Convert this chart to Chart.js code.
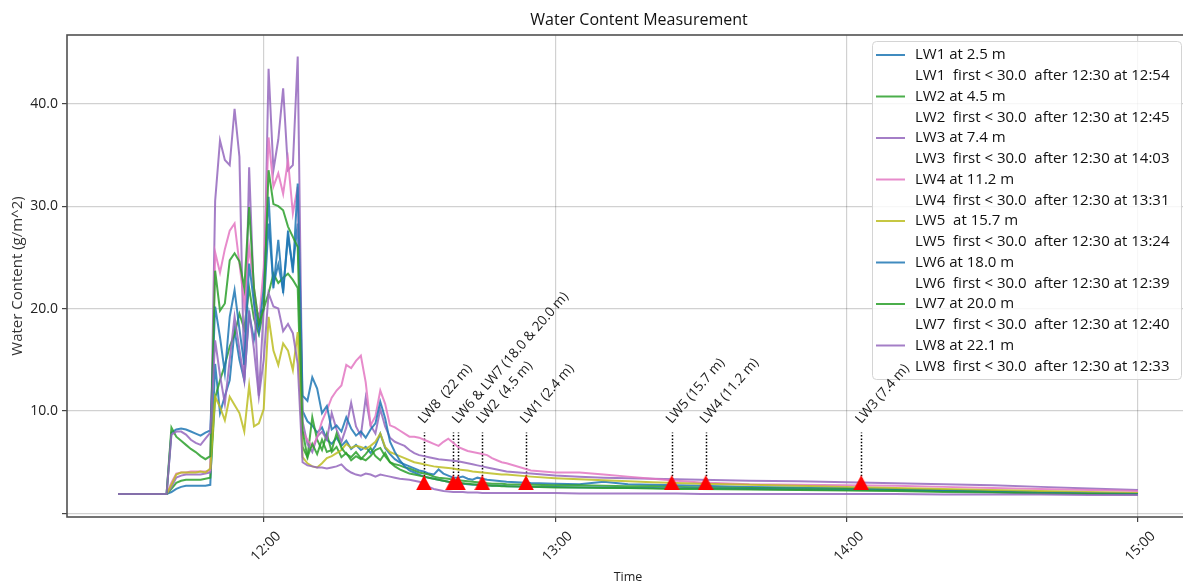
<!DOCTYPE html>
<html>
<head>
<meta charset="utf-8">
<title>Water Content Measurement</title>
<script src="https://cdn.jsdelivr.net/npm/chart.js@4.4.1/dist/chart.umd.min.js"></script>
<style>
  html, body { margin: 0; padding: 0; background: #fff; overflow: hidden; }
  #wrap { position: relative; width: 1200px; height: 583px; }
</style>
</head>
<body>
<div id="wrap"><canvas id="chart" width="1200" height="583"></canvas></div>
<script>
// ---- sample times (HH:MM) ----
const times = [
  '11:30','11:31','11:32','11:33','11:34','11:35','11:36','11:37','11:38','11:39',
  '11:40','11:41','11:42','11:43','11:44','11:45','11:46','11:47','11:48','11:49',
  '11:50','11:51','11:52','11:53','11:54','11:55','11:56','11:57','11:58','11:59',
  '12:00','12:01','12:02','12:03','12:04','12:05','12:06','12:07','12:08','12:09',
  '12:10','12:11','12:12','12:13','12:14','12:15','12:16','12:17','12:18','12:19',
  '12:20','12:21','12:22','12:23','12:24','12:25','12:26','12:27','12:28','12:29',
  '12:30','12:31','12:32','12:33','12:34','12:35','12:36','12:37','12:38','12:39',
  '12:40','12:41','12:42','12:43','12:44','12:45','12:46','12:47','12:48','12:49',
  '12:50','12:55','13:00','13:05','13:10','13:15','13:20','13:25','13:30','13:40',
  '13:50','14:00','14:10','14:20','14:30','14:40','14:50','15:00'
];

// ---- water content per sensor (g/m^2) ----
const lw1 = [
  1.9,1.9,1.9,1.9,1.9,1.9,1.9,1.9,1.9,1.9,
  1.9,2.1,2.4,2.6,2.7,2.7,2.7,2.7,2.7,2.8,
  14.6,9.8,11.5,13.0,17.9,15.0,13.0,19.5,17.0,19.5,
  20.0,28.3,22.4,24.3,21.8,27.0,24.0,28.3,10.0,9.0,
  8.6,7.9,8.4,7.2,6.8,7.4,6.6,7.1,6.3,6.7,
  6.2,6.5,5.9,6.6,7.8,6.4,5.8,5.3,5.0,4.8,
  4.6,4.4,4.2,4.1,3.9,3.8,4.3,3.9,3.7,3.5,
  3.5,3.6,3.4,3.3,3.5,3.4,3.3,3.25,3.2,3.15,
  3.1,2.97,2.9,2.85,3.1,2.85,2.8,2.75,2.7,2.6,
  2.55,2.5,2.4,2.3,2.2,2.1,2.0,1.95
];
const lw2 = [
  1.9,1.9,1.9,1.9,1.9,1.9,1.9,1.9,1.9,1.9,
  1.9,2.4,3.0,3.2,3.3,3.3,3.3,3.3,3.4,3.5,
  11.3,13.0,14.5,16.3,17.5,19.5,18.0,22.0,19.0,17.5,
  20.0,21.5,23.4,22.5,23.0,23.4,22.8,22.0,6.5,5.5,
  9.4,7.2,6.2,7.8,6.0,6.5,5.5,5.9,5.2,5.6,
  5.3,5.8,6.4,5.6,5.2,5.9,5.0,4.8,4.7,4.5,
  4.4,4.2,4.0,3.9,3.8,3.6,3.5,3.45,3.4,3.3,
  3.25,3.2,3.15,3.1,3.05,3.0,2.95,2.9,2.9,2.9,
  2.85,2.8,2.75,2.75,2.7,2.65,2.65,2.6,2.55,2.5,
  2.45,2.4,2.3,2.25,2.15,2.05,2.0,1.9
];
const lw3 = [
  1.9,1.9,1.9,1.9,1.9,1.9,1.9,1.9,1.9,1.9,
  1.9,2.6,3.5,3.7,3.8,3.8,3.8,3.8,3.9,4.0,
  30.5,36.4,34.5,34.0,39.5,34.8,13.0,33.8,21.0,11.5,
  20.0,43.4,33.5,36.5,41.5,33.5,34.0,44.6,9.0,6.8,
  6.0,7.5,8.0,7.2,9.8,8.2,7.0,8.4,10.8,8.5,
  7.6,11.3,8.6,7.8,10.2,8.5,7.4,7.0,6.8,6.6,
  6.2,5.9,5.7,5.6,5.5,5.4,5.3,5.25,5.2,5.15,
  5.1,5.0,4.9,4.8,4.7,4.6,4.5,4.4,4.3,4.2,
  4.1,3.9,3.7,3.6,3.5,3.45,3.4,3.35,3.3,3.2,
  3.15,3.05,2.95,2.85,2.75,2.6,2.45,2.3
];
const lw4 = [
  1.9,1.9,1.9,1.9,1.9,1.9,1.9,1.9,1.9,1.9,
  1.9,3.0,3.9,4.0,4.0,4.1,4.1,4.1,4.1,4.2,
  25.5,23.5,25.8,27.6,28.3,24.4,20.5,26.0,22.0,18.5,
  24.0,36.7,31.9,33.2,31.2,34.5,29.3,31.9,8.0,7.2,
  6.5,7.4,9.0,10.1,11.3,12.0,12.5,14.5,14.2,14.9,
  15.4,12.8,8.6,9.5,12.0,10.7,8.6,8.4,8.1,7.8,
  7.5,7.5,7.4,7.2,7.0,6.8,6.6,7.0,7.3,6.9,
  6.5,6.3,6.1,6.0,5.9,5.8,5.7,5.4,5.2,5.0,
  4.9,4.2,4.0,4.0,3.8,3.6,3.4,3.2,3.02,2.85,
  2.8,2.75,2.7,2.6,2.5,2.4,2.3,2.2
];
const lw5 = [
  1.9,1.9,1.9,1.9,1.9,1.9,1.9,1.9,1.9,1.9,
  1.9,2.8,3.8,4.0,4.0,4.0,4.0,4.1,4.0,4.4,
  11.4,10.4,9.1,11.4,10.6,9.8,8.0,12.5,8.5,8.8,
  10.2,19.2,15.9,14.5,16.6,15.9,14.0,17.7,5.5,4.9,
  4.6,4.5,4.9,5.4,5.6,5.9,6.2,6.8,6.4,6.6,
  6.5,6.3,6.6,7.0,7.8,6.5,6.0,5.8,5.6,5.4,
  5.2,5.0,4.9,4.8,4.7,4.6,4.55,4.5,4.45,4.4,
  4.3,4.25,4.2,4.1,4.05,4.0,3.95,3.9,3.85,3.8,
  3.8,3.6,3.45,3.35,3.25,3.15,3.05,2.98,2.9,2.8,
  2.7,2.6,2.5,2.4,2.3,2.2,2.1,2.0
];
const lw6 = [
  1.9,1.9,1.9,1.9,1.9,1.9,1.9,1.9,1.9,1.9,
  1.9,7.9,8.2,8.3,8.2,8.0,7.8,7.6,7.9,8.1,
  20.2,17.2,13.7,19.2,21.8,18.0,14.5,24.4,20.5,17.8,
  22.0,30.9,22.0,26.7,21.5,27.6,23.5,32.2,11.5,11.0,
  13.3,12.2,9.8,10.5,8.2,8.6,8.0,9.4,8.3,7.6,
  8.0,7.4,8.2,8.8,10.9,9.3,7.0,6.0,5.2,4.6,
  4.2,4.0,3.8,3.6,3.5,3.4,3.3,3.2,3.1,3.0,
  2.95,2.9,2.85,2.8,2.8,2.75,2.75,2.7,2.7,2.7,
  2.65,2.6,2.6,2.55,2.55,2.5,2.5,2.45,2.45,2.4,
  2.35,2.3,2.25,2.2,2.1,2.0,1.95,1.9
];
const lw7 = [
  1.9,1.9,1.9,1.9,1.9,1.9,1.9,1.9,1.9,1.9,
  1.9,8.4,7.5,7.1,6.7,6.3,6.0,5.6,5.3,5.6,
  23.7,19.8,20.5,24.7,25.4,24.6,22.0,29.9,22.0,18.5,
  20.0,33.5,30.2,30.0,29.6,28.0,27.0,26.0,8.1,5.5,
  6.8,5.8,7.2,6.0,6.2,7.8,6.4,5.8,5.5,6.0,
  5.4,5.2,5.6,6.2,6.4,5.6,5.0,4.6,4.3,4.1,
  3.9,3.8,3.7,3.6,3.5,3.4,3.3,3.2,3.1,3.05,
  3.0,2.95,2.9,2.85,2.8,2.8,2.75,2.7,2.7,2.65,
  2.65,2.6,2.55,2.55,2.5,2.5,2.45,2.4,2.4,2.35,
  2.3,2.25,2.2,2.1,2.05,1.95,1.9,1.85
];
const lw8 = [
  1.9,1.9,1.9,1.9,1.9,1.9,1.9,1.9,1.9,1.9,
  1.9,7.7,8.0,8.0,7.7,7.2,6.9,6.7,7.3,7.9,
  16.9,13.5,10.7,15.0,19.2,16.0,13.0,19.8,16.0,11.4,
  15.0,21.5,20.2,20.0,17.8,18.5,17.6,14.6,5.0,4.7,
  4.6,4.5,4.5,4.4,4.5,4.6,4.8,4.3,4.0,3.8,
  3.7,3.9,3.8,3.6,3.8,3.7,3.6,3.5,3.4,3.35,
  3.3,3.2,3.1,3.0,2.6,2.4,2.3,2.2,2.15,2.1,
  2.1,2.1,2.05,2.05,2.05,2.0,2.0,2.0,2.0,2.0,
  2.0,2.0,2.0,1.95,1.95,1.95,1.95,1.95,1.9,1.9,
  1.9,1.9,1.9,1.85,1.85,1.85,1.8,1.8
];

// ---- series, legend and marker text ----
const seriesValues = [lw1, lw2, lw3, lw4, lw5, lw6, lw7, lw8];
const seriesLabels = ['LW1 at 2.5 m', 'LW2 at 4.5 m', 'LW3 at 7.4 m', 'LW4 at 11.2 m',
                      'LW5  at 15.7 m', 'LW6 at 18.0 m', 'LW7 at 20.0 m', 'LW8 at 22.1 m'];
const seriesColors = ['#1f77b4', '#2ca02c', '#9467bd', '#e377c2', '#bcbd22', '#1f77b4', '#2ca02c', '#9467bd'];
const crossTimes = ['12:54', '12:45', '14:03', '13:31', '13:24', '12:39', '12:40', '12:33'];
const thresholdText = 'first < 30.0';
const afterText = 'after 12:30';
const markLevel = 3.0;        // level of the red triangles
const guideTop = 7.9;         // top of the dotted guides
const noteLevel = 8.7;        // base of the rotated notes
const noteTimes = ['12:33', '12:40', '12:45', '12:54', '13:24', '13:31', '14:03'];
const noteTexts = ['LW8  (22 m)', 'LW6 & LW7 (18.0 & 20.0 m)', 'LW2  (4.5 m)', 'LW1 (2.4 m)',
                   'LW5 (15.7 m)', 'LW4 (11.2 m)', 'LW3 (7.4 m)'];
const xTickTimes = ['12:00', '13:00', '14:00', '15:00'];
const yTickValues = [0, 10, 20, 30, 40];

const FONT = "'Open Sans', 'Noto Sans', sans-serif";
const toMin = t => { const [h, m] = t.split(':').map(Number); return h * 60 + m; };
const fmtTime = v => { const h = Math.floor(v / 60), m = Math.round(v - h * 60); return h + ':' + String(m).padStart(2, '0'); };
const rgba = (hex, a) => {
  const n = parseInt(hex.slice(1), 16);
  return `rgba(${(n >> 16) & 255},${(n >> 8) & 255},${n & 255},${a})`;
};

// red triangle marker (apex up, centred on the point)
const tri = document.createElement('canvas');
tri.width = 16; tri.height = 15;
(() => {
  const c = tri.getContext('2d');
  c.fillStyle = '#ff0000';
  c.beginPath(); c.moveTo(8, 0); c.lineTo(16, 15); c.lineTo(0, 15); c.closePath(); c.fill();
})();

const datasets = seriesValues.map((vals, i) => ({
  label: seriesLabels[i],
  data: times.map((t, k) => ({ x: toMin(t), y: vals[k] })),
  borderColor: rgba(seriesColors[i], 0.85),
  backgroundColor: rgba(seriesColors[i], 0.85),
  borderWidth: 2,
  pointRadius: 0,
  tension: 0,
  order: 8 - i
}));
datasets.push({
  label: 'threshold',
  data: crossTimes.map(t => ({ x: toMin(t), y: markLevel })),
  showLine: false,
  pointStyle: tri,
  pointRadius: 8,
  order: -1
});

const decor = {
  id: 'decor',
  beforeDatasetsDraw(chart) {
    const { ctx, scales: { x, y } } = chart;
    ctx.save();
    ctx.strokeStyle = '#000';
    ctx.lineWidth = 1.5;
    ctx.setLineDash([1.5, 1.8]);
    crossTimes.forEach(t => {
      const px = Math.round(x.getPixelForValue(toMin(t))) + 0.5;
      ctx.beginPath();
      ctx.moveTo(px, y.getPixelForValue(markLevel));
      ctx.lineTo(px, y.getPixelForValue(guideTop));
      ctx.stroke();
    });
    ctx.restore();
  },
  afterDraw(chart) {
    const { ctx, chartArea: a, scales: { x, y } } = chart;
    ctx.save();
    // axes frame
    ctx.strokeStyle = '#505050';
    ctx.lineWidth = 1.6;
    ctx.strokeRect(a.left, a.top, a.right - a.left, a.bottom - a.top);

    // title
    ctx.fillStyle = '#111';
    ctx.font = `16px ${FONT}`;
    ctx.textAlign = 'center';
    ctx.textBaseline = 'middle';
    ctx.fillText('Water Content Measurement', 639, 20);

    // legend
    const lx = 872, ly = 41, lw = 309, lh = 338, row = 20.75;
    ctx.fillStyle = 'rgba(255,255,255,0.82)';
    ctx.strokeStyle = '#d4d4d4';
    ctx.lineWidth = 1;
    ctx.beginPath();
    ctx.roundRect(lx + 0.5, ly + 0.5, lw, lh, 4);
    ctx.fill();
    ctx.stroke();
    ctx.font = `15px ${FONT}`;
    ctx.textAlign = 'left';
    ctx.textBaseline = 'middle';
    seriesLabels.forEach((lab, i) => {
      const yA = ly + 14 + row * (2 * i);
      const yB = yA + row;
      ctx.strokeStyle = rgba(seriesColors[i], 0.85);
      ctx.lineWidth = 2;
      ctx.beginPath(); ctx.moveTo(876, yA); ctx.lineTo(905, yA); ctx.stroke();
      ctx.fillStyle = '#111';
      ctx.fillText(lab, 915, yA);
      const name = lab.split(' ')[0];
      ctx.fillText(`${name}  ${thresholdText}  ${afterText} at ${crossTimes[i]}`, 915, yB);
    });

    // rotated notes above the guides
    ctx.fillStyle = '#1a1a1a';
    ctx.font = `13.5px ${FONT}`;
    ctx.textAlign = 'left';
    ctx.textBaseline = 'alphabetic';
    noteTimes.forEach((t, i) => {
      const px = x.getPixelForValue(toMin(t));
      const py = y.getPixelForValue(noteLevel);
      ctx.save();
      ctx.translate(px, py);
      ctx.rotate(-49 * Math.PI / 180);
      ctx.fillText(noteTexts[i], 0, 0);
      ctx.restore();
    });
    ctx.restore();
  }
};

Chart.defaults.font.family = FONT;
Chart.defaults.color = '#222';

new Chart(document.getElementById('chart'), {
  type: 'line',
  data: { datasets },
  options: {
    responsive: false,
    animation: false,
    events: [],
    layout: { padding: { top: 35, right: 11, bottom: 0, left: 0 } },
    plugins: { legend: { display: false }, tooltip: { enabled: false }, title: { display: false } },
    scales: {
      x: {
        type: 'linear',
        min: toMin('11:19') + 0.5,
        max: toMin('15:10') + 0.5,
        afterBuildTicks: s => { s.ticks = xTickTimes.map(t => ({ value: toMin(t) })); },
        afterFit: s => { s.height = 66; },
        grid: { color: 'rgba(0,0,0,0.18)', lineWidth: 1.2, tickLength: 5, tickColor: '#444', tickWidth: 1.2 },
        border: { display: false },
        ticks: {
          callback: v => fmtTime(v),
          autoSkip: false, minRotation: 45, maxRotation: 45,
          padding: 6, labelOffset: 15,
          font: { size: 14 }, color: '#222'
        },
        title: { display: true, text: 'Time', font: { size: 12.5 }, color: '#222', padding: { top: 0, bottom: -2 } }
      },
      y: {
        min: -0.34,
        max: 46.7,
        afterBuildTicks: s => { s.ticks = yTickValues.map(v => ({ value: v })); },
        afterFit: s => { s.width = 67; },
        grid: { color: 'rgba(0,0,0,0.18)', lineWidth: 1.2, tickLength: 5, tickColor: '#444', tickWidth: 1.2 },
        border: { display: false },
        ticks: {
          callback: v => (v === 0 ? '' : v.toFixed(1)),
          padding: 4,
          font: { size: 14 }, color: '#222'
        },
        title: { display: true, text: 'Water Content (g/m^2)', font: { size: 15 }, color: '#333', padding: { top: 9, bottom: 0 } }
      }
    }
  },
  plugins: [decor]
});
</script>
</body>
</html>
